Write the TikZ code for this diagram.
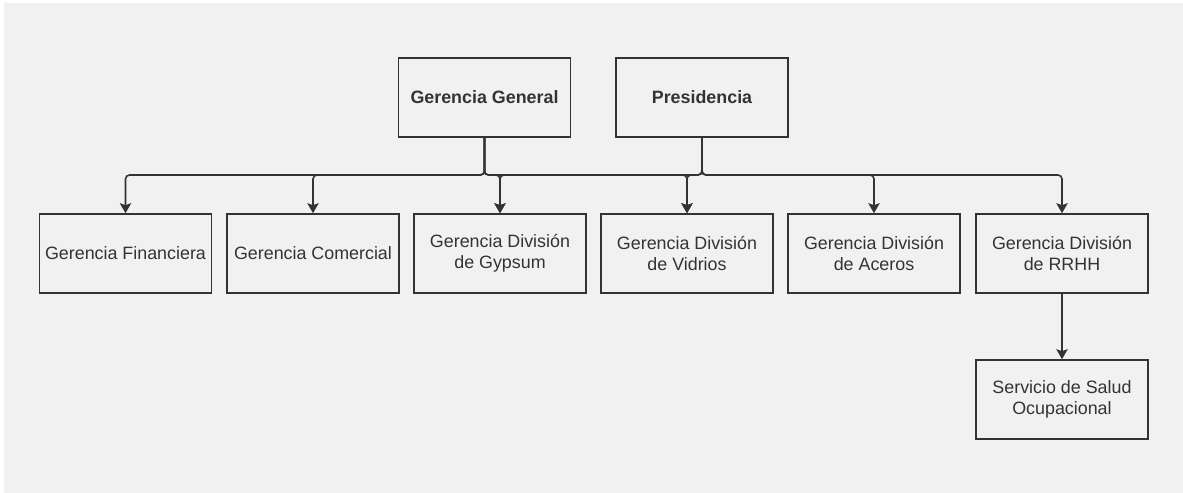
\documentclass[tikz,border=0pt]{standalone}
\usepackage{fontspec}
\setmainfont{Liberation Sans}
\usetikzlibrary{arrows.meta}
\definecolor{bg}{HTML}{F1F1F1}
\definecolor{ink}{HTML}{333333}
\begin{document}
\begin{tikzpicture}[x=0.75pt,y=-0.75pt,
  box/.style={draw=ink, line width=1.2pt, text=ink, minimum width=129pt, minimum height=59.25pt,
    inner sep=0pt, align=center, font=\fontsize{13.4}{15.8}\selectfont},
  topbox/.style={box, font=\fontsize{13.4}{15.8}\selectfont\bfseries},
  edge/.style={draw=ink, line width=1.2pt, rounded corners=3pt,
    -{Stealth[length=7.5pt,width=8.5pt,inset=1.5pt]}}]
\useasboundingbox (0,0) rectangle (1183,493);
\fill[white] (0,0) rectangle (1183,493);
\fill[bg] (4,3) rectangle (1183,493);
\coordinate (bus) at (0,175);
\node[topbox] (gg) at (484.5,97.5) {Gerencia General};
\node[topbox] (pres) at (702,97.5) {Presidencia};
\node[box] (fin) at (125.5,253.5) {Gerencia Financiera};
\node[box] (com) at (313,253.5) {Gerencia Comercial};
\node[box] (gyp) at (500,253.5) {Gerencia División\\de Gypsum};
\node[box] (vid) at (687,253.5) {Gerencia División\\de Vidrios};
\node[box] (ace) at (874,253.5) {Gerencia División\\de Aceros};
\node[box] (rrhh) at (1062,253.5) {Gerencia División\\de RRHH};
\node[box] (serv) at (1062,399.5) {Servicio de Salud\\Ocupacional};
\foreach \c in {fin,com,gyp,vid}
  \draw[edge] (gg.south) -- (gg.south |- bus) -| (\c.north);
\foreach \c in {gyp,vid,ace,rrhh}
  \draw[edge] (pres.south) -- (pres.south |- bus) -| (\c.north);
\draw[edge] (rrhh.south) -- (serv.north);
\end{tikzpicture}
\end{document}
